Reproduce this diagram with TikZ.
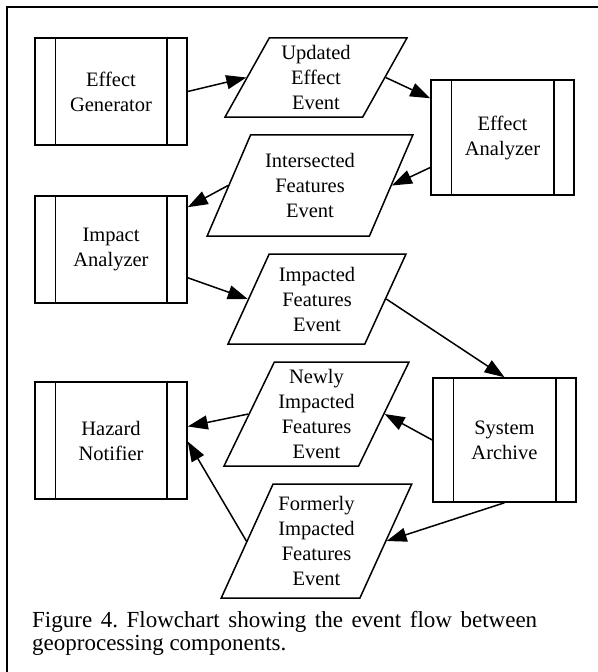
\documentclass[tikz,border=0pt]{standalone}
\usepackage{fontspec}
\setmainfont{Liberation Serif}
\usetikzlibrary{shapes.geometric,arrows.meta}
\newcommand\dgnodefont{\fontsize{20.5bp}{25bp}\selectfont}
\newcommand\dgcapfont{\fontsize{23bp}{23bp}\selectfont}
\frenchspacing
\begin{document}
\begin{tikzpicture}[x=1bp,y=-1bp,
  proc/.style={draw,line width=1.5bp,rectangle,inner sep=0pt,align=center,font=\dgnodefont},
  evt/.style={draw,line width=1.5bp,trapezium,trapezium left angle=63,trapezium right angle=117,
              trapezium stretches=true,inner sep=0pt,align=center,font=\dgnodefont},
  arr/.style={line width=1.5bp,-{Triangle[length=20bp,width=14bp]}},
  bar/.style={line width=1.5bp},
  frame/.style={line width=2bp}]
\useasboundingbox (0,0) rectangle (598,672);
% frame
\draw[frame] (7,672) -- (7,7) -- (598,7);
% process boxes
\node[proc,minimum width=152bp,minimum height=107bp] (eg) at (111,91.5) {Effect\\Generator};
\node[proc,minimum width=143bp,minimum height=115bp] (ea) at (502.5,137.5) {Effect\\Analyzer};
\node[proc,minimum width=152bp,minimum height=107bp] (ia) at (111,249.5) {Impact\\Analyzer};
\node[proc,minimum width=152bp,minimum height=117bp] (hn) at (111,440.5) {Hazard\\Notifier};
\node[proc,minimum width=143bp,minimum height=124bp] (sa) at (504.5,440) {System\\Archive};
\foreach \n in {eg,ea,ia,hn,sa}{
  \draw[bar] ([xshift=21bp]\n.north west) -- ([xshift=21bp]\n.south west);
  \draw[bar] ([xshift=-21bp]\n.north east) -- ([xshift=-21bp]\n.south east);
}
% events
\node[evt,minimum width=182bp,minimum height=79bp] (ue) at (316,77.5) {Updated\\Effect\\Event};
\node[evt,minimum width=206bp,minimum height=101bp] (if) at (310,185.5) {Intersected\\Features\\Event};
\node[evt,minimum width=178bp,minimum height=90bp] (ip) at (317,299) {Impacted\\Features\\Event};
\node[evt,minimum width=185bp,minimum height=104bp] (ni) at (316.5,414) {Newly\\Impacted\\Features\\Event};
\node[evt,minimum width=191bp,minimum height=114bp] (fi) at (316.5,541) {Formerly\\Impacted\\Features\\Event};
% connectors
\draw[arr] (eg.east) -- (ue.left side);
\draw[arr] (ue.right side) -- ([yshift=-19bp]ea.north west);
\draw[arr] ([yshift=-30bp]ea.west) -- (if.right side);
\draw[arr] (if.left side) -- ([yshift=-12bp]ia.north east);
\draw[arr] ([yshift=26bp]ia.south east) -- (ip.left side);
\draw[arr] (ip.right side) -- (sa.north);
\draw[arr] (sa.west) -- (ni.right side);
\draw[arr] (ni.left side) -- ([yshift=14bp]hn.east);
\draw[arr] (fi.left side) -- ([yshift=-1bp]hn.east);
\draw[arr] (sa.south) -- (fi.right side);
% caption
\node[anchor=base west,inner sep=0pt,font=\dgcapfont] (cap1) at (32,627.7)
  {\hbox to 505bp{Figure 4. Flowchart showing the event flow between}};
\node[anchor=base west,inner sep=0pt,font=\dgcapfont] (cap2) at (32,650.7) {geoprocessing components.};
\end{tikzpicture}
\end{document}
